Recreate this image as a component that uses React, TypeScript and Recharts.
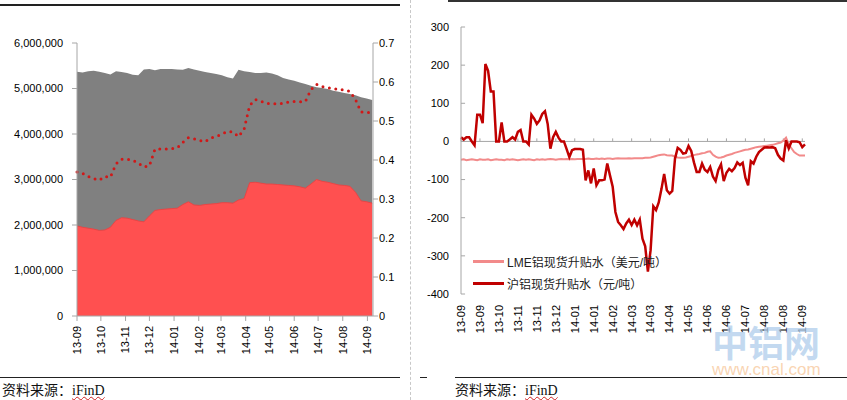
import React from "react";
import {
  Area,
  ComposedChart,
  Legend,
  Line,
  LineChart,
  ReferenceLine,
  XAxis,
  YAxis,
} from "recharts";

// left chart: weekly stocks (tonnes) and share, x = days since 2013-09-01
const monthDays = [0, 30, 61, 91, 122, 153, 181, 212, 242, 273, 303, 334, 365];
const monthLabels = [
  "13-09", "13-10", "13-11", "13-12", "14-01", "14-02", "14-03",
  "14-04", "14-05", "14-06", "14-07", "14-08", "14-09",
];

const totalStock = [
  5370000, 5350000, 5380000, 5390000, 5370000, 5340000, 5310000, 5380000, 5360000, 5340000,
  5300000, 5290000, 5420000, 5430000, 5400000, 5430000, 5430000, 5430000, 5420000, 5410000,
  5450000, 5420000, 5390000, 5360000, 5340000, 5320000, 5290000, 5250000, 5220000, 5410000,
  5380000, 5360000, 5340000, 5340000, 5350000, 5330000, 5290000, 5230000, 5200000, 5170000,
  5130000, 5100000, 5060000, 5030000, 5010000, 4990000, 4950000, 4930000, 4900000, 4880000,
  4850000, 4810000, 4780000, 4750000,
];

const redStock = [
  1980000, 1950000, 1930000, 1910000, 1880000, 1890000, 1950000, 2100000, 2160000, 2150000,
  2120000, 2090000, 2070000, 2200000, 2320000, 2340000, 2350000, 2360000, 2370000, 2450000,
  2510000, 2440000, 2430000, 2450000, 2460000, 2470000, 2490000, 2490000, 2480000, 2550000,
  2580000, 2930000, 2940000, 2920000, 2900000, 2900000, 2890000, 2880000, 2870000, 2860000,
  2840000, 2810000, 2900000, 3000000, 2960000, 2940000, 2910000, 2880000, 2870000, 2850000,
  2720000, 2530000, 2510000, 2480000,
];

const stockRatio = [
  0.369, 0.366, 0.358, 0.352, 0.348, 0.358, 0.356, 0.39, 0.402, 0.402,
  0.4, 0.392, 0.382, 0.385, 0.428, 0.428, 0.428, 0.429, 0.431, 0.445,
  0.457, 0.454, 0.45, 0.447, 0.457, 0.46, 0.467, 0.473, 0.472, 0.46,
  0.479, 0.54, 0.555, 0.551, 0.545, 0.544, 0.545, 0.545, 0.549, 0.55,
  0.549, 0.55, 0.58, 0.594, 0.588, 0.585, 0.584, 0.58, 0.58, 0.576,
  0.555, 0.523, 0.522, 0.522,
];

// right chart: spot premiums, ~every 2 trading days
const spreadTickLabels = [
  "13-09", "13-09", "13-10", "13-11", "13-11", "13-12", "14-01", "14-01", "14-02", "14-03",
  "14-03", "14-04", "14-05", "14-06", "14-06", "14-07", "14-08", "14-08", "14-09",
];

const lmeSpread = [
  -48, -47, -49, -48, -47, -48, -49, -47, -48, -48,
  -47, -49, -48, -47, -48, -48, -49, -47, -48, -47,
  -48, -49, -48, -47, -48, -47, -48, -49, -47, -48,
  -47, -48, -47, -46, -47, -48, -47, -46, -47, -46,
  -47, -46, -47, -46, -46, -46, -46, -45, -46, -46,
  -45, -46, -45, -46, -45, -45, -46, -45, -44, -45,
  -45, -45, -44, -45, -44, -44, -44, -44, -43, -43,
  -42, -40, -38, -36, -35, -34, -36, -37, -37, -40,
  -42, -43, -43, -42, -40, -38, -36, -34, -33, -31,
  -30, -27, -26, -35, -40, -43, -42, -40, -37, -35,
  -33, -30, -28, -26, -24, -22, -21, -19, -17, -15,
  -14, -13, -12, -11, -10, -9, -7, -5, -3, 2,
  10, -8, -18, -28, -33, -37, -37, -37,
];

const shfeSpread = [
  11, 5, 11, 11, 0, -10, 70, 70, 48, 203,
  185, 131, 131, 0, 0, 50, 0, 0, 5, 11,
  5, 25, 30, 0, 0, -8, 70, 60, 46, 55,
  72, 79, 46, -19, 11, 25, 10, 0, 0, -20,
  -41, -23, -20, -20, -20, -22, -102, -76, -110, -71,
  -115, -102, -102, -100, -58, -89, -119, -185, -211, -220,
  -230, -215, -205, -219, -205, -220, -205, -255, -275, -341,
  -285, -170, -180, -160, -125, -85, -128, -137, -130, -45,
  -17, -22, -32, -30, -12, -25, -55, -80, -80, -58,
  -74, -80, -67, -92, -104, -75, -60, -104, -82, -72,
  -78, -70, -55, -62, -56, -95, -115, -52, -58, -40,
  -28, -22, -16, -15, -16, -15, -18, -35, -45, -50,
  3, -18, 0, 0, 0, -2, -15, -8,
];

const stockData = totalStock.map((total, i) => ({
  day: i * 7,
  total,
  red: redStock[i],
  ratio: stockRatio[i],
}));

const spreadData = shfeSpread.map((shfe, i) => ({
  idx: i,
  lme: lmeSpread[i],
  shfe,
}));
const spreadTicks = spreadTickLabels.map((_, i) => i * 7);
const spreadYTicks = [-400, -300, -200, -100, 0, 100, 200, 300];

const FONT = "'Liberation Sans', Arial, 'Noto Sans CJK SC', sans-serif";
const AXIS = "#A6A6A6";

const RotTick = ({ x, y, payload, labels, ticks, offset }: any) => {
  const idx = ticks.indexOf(payload.value);
  return (
    <g transform={`translate(${x},${y})`}>
      <text
        transform="rotate(-90)"
        x={-offset}
        y={0}
        dy="0.35em"
        textAnchor="end"
        fontSize={11}
        fontFamily={FONT}
        fill="#000"
      >
        {labels[idx]}
      </text>
    </g>
  );
};

const renderLegend = ({ payload }: any) => (
  <div>
    {(payload || []).map((p: any) => (
      <div
        key={p.value}
        style={{ display: "flex", alignItems: "center", height: 22 }}
      >
        <span
          style={{ display: "inline-block", width: 31, height: 3, background: p.color }}
        />
        <span
          style={{ marginLeft: 3, fontSize: 12, color: "#222", fontFamily: FONT }}
        >
          {p.value}
        </span>
      </div>
    ))}
  </div>
);

function StockChart() {
  return (
    <ComposedChart
      width={410}
      height={370}
      data={stockData}
      margin={{ top: 43, right: 0, bottom: 0, left: 0 }}
    >
      <XAxis
        type="number"
        dataKey="day"
        domain={[0, 372]}
        ticks={monthDays}
        height={54}
        tickSize={5}
        tickMargin={2}
        stroke={AXIS}
        interval={0}
        tick={(p: any) => (
          <RotTick {...p} labels={monthLabels} ticks={monthDays} offset={3} />
        )}
      />
      <YAxis
        yAxisId="left"
        width={77}
        domain={[0, 6000000]}
        ticks={[0, 1000000, 2000000, 3000000, 4000000, 5000000, 6000000]}
        tickFormatter={(v: number) => v.toLocaleString("en-US")}
        tickSize={5}
        tickMargin={9}
        stroke={AXIS}
        tick={{ fill: "#000", fontSize: 11, fontFamily: FONT }}
      />
      <YAxis
        yAxisId="right"
        orientation="right"
        width={37}
        domain={[0, 0.7]}
        ticks={[0, 0.1, 0.2, 0.3, 0.4, 0.5, 0.6, 0.7]}
        tickFormatter={(v: number) => (v === 0 ? "0" : v.toFixed(1))}
        tickSize={5}
        tickMargin={1}
        stroke={AXIS}
        tick={{ fill: "#000", fontSize: 11, fontFamily: FONT }}
      />
      <Area
        yAxisId="left"
        type="linear"
        dataKey="total"
        fill="#808080"
        fillOpacity={1}
        stroke="none"
        dot={false}
        activeDot={false}
        isAnimationActive={false}
      />
      <Area
        yAxisId="left"
        type="linear"
        dataKey="red"
        fill="#FF5050"
        fillOpacity={1}
        stroke="#E84545"
        strokeWidth={1}
        dot={false}
        activeDot={false}
        isAnimationActive={false}
      />
      <Line
        yAxisId="right"
        type="linear"
        dataKey="ratio"
        stroke="#D01818"
        strokeWidth={3}
        strokeDasharray="0 6.5"
        strokeLinecap="round"
        dot={false}
        activeDot={false}
        isAnimationActive={false}
      />
    </ComposedChart>
  );
}

function SpreadChart() {
  return (
    <LineChart
      width={420}
      height={345}
      data={spreadData}
      margin={{ top: 27, right: 35, bottom: 0, left: 0 }}
    >
      <XAxis
        type="number"
        dataKey="idx"
        domain={[0, 127]}
        ticks={spreadTicks}
        interval={0}
        height={51}
        axisLine={false}
        tickLine={false}
        tickSize={0}
        tickMargin={0}
        tick={(p: any) => (
          <RotTick {...p} labels={spreadTickLabels} ticks={spreadTicks} offset={11} />
        )}
      />
      <YAxis
        width={41}
        domain={[-400, 300]}
        ticks={spreadYTicks}
        tickLine={false}
        tickSize={0}
        tickMargin={12}
        stroke={AXIS}
        tick={{ fill: "#000", fontSize: 11, fontFamily: FONT }}
      />
      <ReferenceLine y={0} stroke={AXIS} />
      {spreadTicks.map((t) => (
        <ReferenceLine
          key={`xt-${t}`}
          segment={[{ x: t, y: 0 }, { x: t, y: 8 }]}
          stroke={AXIS}
        />
      ))}
      {spreadYTicks.map((v) => (
        <ReferenceLine
          key={`yt-${v}`}
          segment={[{ x: 0, y: v }, { x: 1.5, y: v }]}
          stroke={AXIS}
        />
      ))}
      <Line
        type="linear"
        dataKey="lme"
        name="LME铝现货升贴水（美元/吨）"
        stroke="#F28A8A"
        strokeWidth={2}
        dot={false}
        activeDot={false}
        isAnimationActive={false}
      />
      <Line
        type="linear"
        dataKey="shfe"
        name="沪铝现货升贴水（元/吨）"
        stroke="#C00000"
        strokeWidth={2.5}
        dot={false}
        activeDot={false}
        isAnimationActive={false}
      />
      <Legend
        layout="vertical"
        align="center"
        verticalAlign="middle"
        wrapperStyle={{ left: 53, top: 250, width: 260 }}
        content={renderLegend}
      />
    </LineChart>
  );
}

const sourceStyle: React.CSSProperties = {
  position: "absolute",
  top: 383,
  height: 16,
  lineHeight: "16px",
  fontSize: 14,
  color: "#111",
  fontFamily: "'Liberation Serif', 'Noto Sans CJK SC', serif",
  whiteSpace: "nowrap",
};

const Source = ({ left }: { left: number }) => (
  <div style={{ ...sourceStyle, left }}>
    资料来源：
    <span
      style={{
        textDecoration: "underline wavy #D02020",
        textDecorationThickness: 1,
      }}
    >
      iFinD
    </span>
  </div>
);

export default function App() {
  return (
    <div
      style={{
        position: "absolute",
        left: 0,
        top: 0,
        width: 847,
        height: 400,
        background: "#fff",
        overflow: "hidden",
      }}
    >
      <div style={{ position: "absolute", left: 0, top: 4, width: 400, height: 1.5, background: "#222" }} />
      <div style={{ position: "absolute", left: 448, top: 0, width: 399, height: 1.5, background: "#333" }} />
      <div style={{ position: "absolute", left: 410, top: 0, height: 400, borderLeft: "1px dashed #C8C8C8" }} />
      <div style={{ position: "absolute", left: 0, top: 377, width: 400, height: 1, background: "#222" }} />
      <div style={{ position: "absolute", left: 420, top: 377, width: 7, height: 1, background: "#222" }} />
      <div style={{ position: "absolute", left: 455, top: 377, width: 392, height: 1, background: "#222" }} />

      <div style={{ position: "absolute", left: 0, top: 0 }}>
        <StockChart />
      </div>
      <div style={{ position: "absolute", left: 420, top: 0 }}>
        <SpreadChart />
      </div>

      <Source left={2} />
      <Source left={455} />

      <div
        style={{
          position: "absolute",
          left: 712,
          top: 323,
          fontSize: 36,
          lineHeight: "36px",
          fontWeight: 700,
          color: "rgba(175,205,235,0.75)",
          fontFamily: "'Noto Sans CJK SC', sans-serif",
          whiteSpace: "nowrap",
        }}
      >
        中铝网
      </div>
      <div
        style={{
          position: "absolute",
          left: 712,
          top: 361,
          fontSize: 17,
          lineHeight: "17px",
          color: "rgba(248,205,165,0.85)",
          fontFamily: "'Liberation Sans', Arial, sans-serif",
          whiteSpace: "nowrap",
        }}
      >
        www.cnal.com
      </div>
    </div>
  );
}
